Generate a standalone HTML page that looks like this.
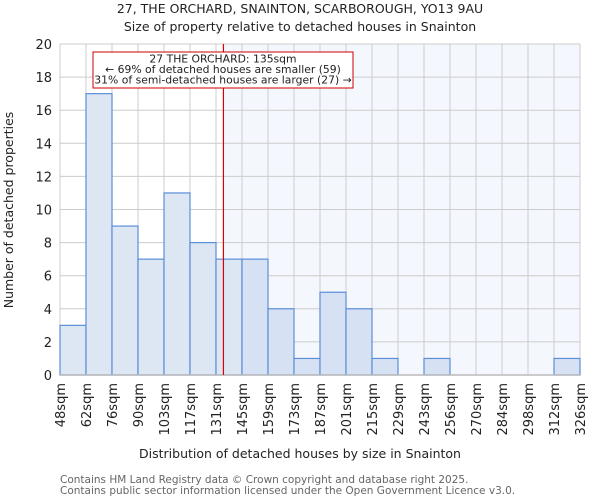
<!DOCTYPE html>
<html><head><meta charset="utf-8"><style>
body{margin:0;background:#fff;}
svg{display:block;font-family:"DejaVu Sans","Liberation Sans",sans-serif;}
</style></head><body>
<svg id="chart" width="600" height="500">
<text x="300" y="13" text-anchor="middle" font-size="12.5" fill="#222">27, THE ORCHARD, SNAINTON, SCARBOROUGH, YO13 9AU</text>
<text x="300" y="31" text-anchor="middle" font-size="12.5" fill="#222">Size of property relative to detached houses in Snainton</text>
<g id="plot"></g>
<text x="300" y="458" text-anchor="middle" font-size="12.5" fill="#222">Distribution of detached houses by size in Snainton</text>
<text transform="translate(13,210) rotate(-90)" text-anchor="middle" font-size="12.5" fill="#222">Number of detached properties</text>
<text x="60" y="483" font-size="10.5" fill="#666">Contains HM Land Registry data © Crown copyright and database right 2025.</text>
<text x="60" y="494" font-size="10.5" fill="#666">Contains public sector information licensed under the Open Government Licence v3.0.</text>
</svg>
<script>
const binLabels=["48sqm","62sqm","76sqm","90sqm","103sqm","117sqm","131sqm","145sqm","159sqm","173sqm","187sqm","201sqm","215sqm","229sqm","243sqm","256sqm","270sqm","284sqm","298sqm","312sqm","326sqm"];
const binEdges=[48,62,76,90,103,117,131,145,159,173,187,201,215,229,243,256,270,284,298,312,326];
const counts=[3,17,9,7,11,8,7,7,4,1,5,4,1,0,1,0,0,0,0,1];
const yTicks=[0,2,4,6,8,10,12,14,16,18,20];
const propertySize=135;
const NS="http://www.w3.org/2000/svg";
const L=60,R=580,T=44,B=375,yMax=20;
const g=document.getElementById('plot');
function el(t,a,p){const e=document.createElementNS(NS,t);for(const k in a)e.setAttribute(k,a[k]);(p||g).appendChild(e);return e;}
const bw=(R-L)/counts.length;
function xi(i){return L+i*bw;}
function xv(v){let i=0;while(i<binEdges.length-2&&v>binEdges[i+1])i++;return xi(i)+(v-binEdges[i])/(binEdges[i+1]-binEdges[i])*bw;}
function y(v){return B-(v/yMax)*(B-T);}
const px=xv(propertySize);
let s=el('rect',{x:px,y:T,width:R-px,height:B-T,fill:"#f4f7fd"});


yTicks.forEach(t=>{
 let l=el('line',{x1:L,x2:R,y1:y(t),y2:y(t),stroke:"#cccccc"});
 
 
 let tx=el('text',{x:L-8,y:y(t)+5,"text-anchor":"end","font-size":"13",fill:"#222"});
 tx.textContent=t;
 
 
});
binLabels.forEach((lb,i)=>{
 let l=el('line',{x1:xi(i),x2:xi(i),y1:T,y2:B,stroke:"#cccccc"});
 
 
 let tx=el('text',{transform:`translate(${xi(i)+5},${B+8}) rotate(-90)`,"text-anchor":"end","font-size":"13",fill:"#222"});
 tx.textContent=lb;
 
 
});
counts.forEach((c,i)=>{
 if(c<=0)return;
 let r=el('rect',{x:xi(i),y:y(c),width:bw,height:B-y(c),fill:xi(i)>=px-1?"#d6e1f3":"#dde7f4",stroke:"#5a8fd8","stroke-width":"1.2"});
 
 
});
let ax=el('line',{x1:L,x2:R,y1:B,y2:B,stroke:"#bbbbbb","stroke-width":"1.5"});


let rl=el('line',{x1:px,x2:px,y1:T,y2:B,stroke:"#dd0000","stroke-width":"1.2"});


let ab=el('rect',{x:93,y:52,width:260,height:36,fill:"#fff",stroke:"#cc0000","stroke-width":"1"});


["27 THE ORCHARD: 135sqm","← 69% of detached houses are smaller (59)","31% of semi-detached houses are larger (27) →"].forEach((t,i)=>{
 let tx=el('text',{x:223,y:62.5+i*10.5,"text-anchor":"middle","font-size":"10.8",fill:"#222"});
 tx.textContent=t;
 
 
});
</script>
</body></html>
